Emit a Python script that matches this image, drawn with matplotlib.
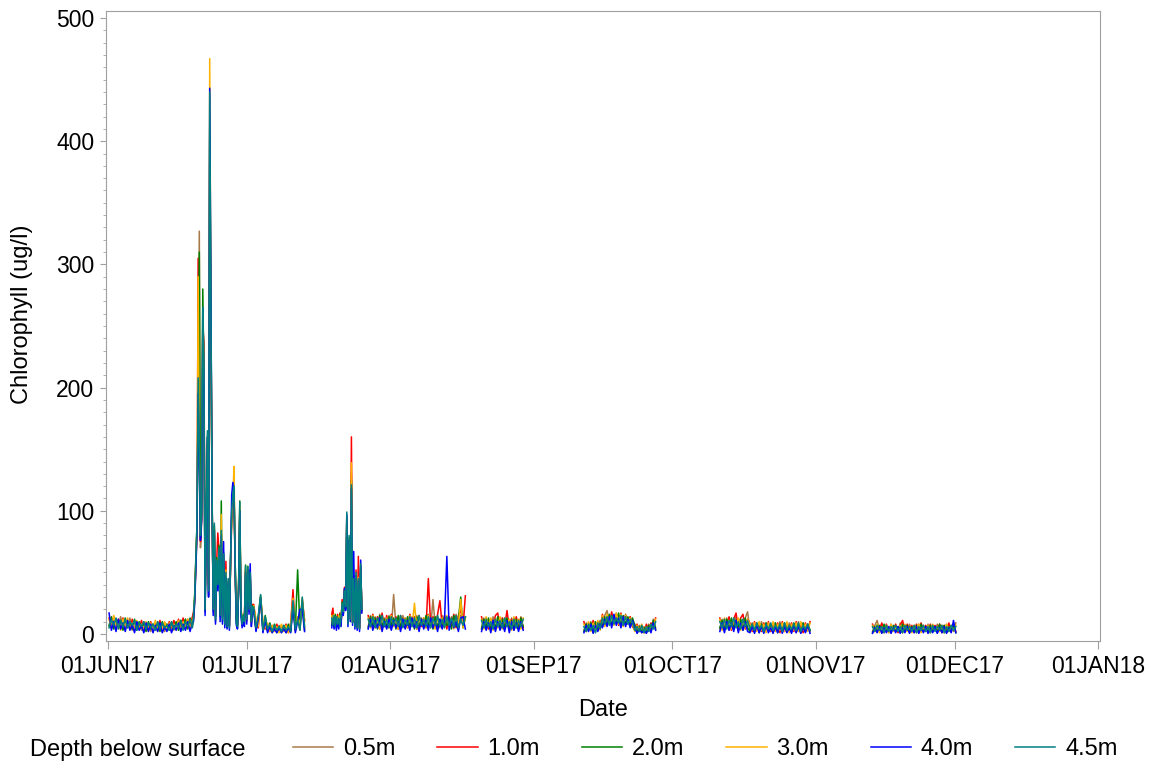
import numpy as np
import pandas as pd
import matplotlib
matplotlib.use("Agg")
import matplotlib.pyplot as plt
import matplotlib.dates as mdates
from matplotlib.ticker import MultipleLocator, FuncFormatter

plt.rcParams["font.family"] = ["Liberation Sans", "DejaVu Sans"]

# logger deployments: start time and sampling step (hours) of each block
SEG_START = ["2017-06-01 06:00", "2017-06-19 12:00", "2017-07-02 12:00",
             "2017-07-19 09:00", "2017-07-27 06:00", "2017-08-20 18:00",
             "2017-09-11 21:00", "2017-10-11 06:00", "2017-11-13 06:00"]
SEG_STEP_H = [12, 6, 12, 6, 12, 12, 12, 12, 12]

DEPTHS = ["0.5m", "1.0m", "2.0m", "3.0m", "4.0m", "4.5m"]
COLORS = ["#A87A48", "#FF0000", "#008000", "#FFB300", "#0000FF", "#008080"]

# chlorophyll (ug/l) per depth, one list per block
chl_05 = [
    [6, 13, 5, 12, 7, 14, 4, 11, 6, 13, 3, 10, 5, 9, 3, 10, 4, 9, 2, 8, 4, 10, 3, 9, 2, 8, 4, 10, 3, 9, 5, 11, 4, 12, 5, 11, 6],
    [12, 25, 55, 80, 190, 327, 70, 90, 240, 200, 25, 85, 150, 30, 380, 240, 110, 25, 80, 15, 55, 45, 65, 18, 75, 15,
     60, 10, 45, 8, 40, 6, 55, 90, 105, 115, 50, 12, 8, 35, 95, 18, 10, 12, 8, 50, 10, 48, 18, 45, 8, 20],
    [20, 4, 13, 28, 3, 12, 2, 7, 1, 6, 2, 7, 1, 6, 2, 7, 3, 25, 4, 14, 3, 26, 5],
    [8, 16, 6, 14, 7, 15, 5, 14, 8, 22, 16, 30, 20, 85, 9, 70, 13, 130, 10, 40, 7, 45, 6, 40, 5, 50, 18],
    [6, 15, 5, 14, 7, 16, 5, 13, 6, 15, 4, 32, 6, 14, 5, 15, 7, 13, 4, 14, 6, 15, 5, 13, 7, 14, 16, 5, 28, 6,
     14, 5, 15, 7, 13, 5, 14, 6, 16, 4, 15, 6, 13],
    [5, 13, 4, 12, 6, 14, 3, 12, 5, 13, 4, 11, 6, 13, 3, 12, 5, 14, 4],
    [3, 9, 4, 10, 2, 8, 5, 11, 8, 15, 19, 9, 16, 8, 17, 9, 15, 7, 16, 8, 14, 7, 8, 2, 7, 1, 6, 2, 8, 3, 12, 5],
    [4, 12, 5, 13, 3, 11, 6, 14, 4, 12, 5, 13, 18, 3, 9, 2, 8, 3, 10, 2, 9, 3, 8, 1, 9, 2, 10, 3, 8, 2, 9, 3, 8, 1,
     10, 2, 9, 3, 8, 2],
    [2, 7, 11, 3, 8, 2, 7, 1, 8, 3, 7, 2, 9, 1, 7, 3, 8, 2, 7, 1, 8, 3, 7, 2, 8, 1, 7, 3, 8, 2, 7, 1, 8, 3, 7, 2, 9],
]
chl_10 = [
    [13, 5, 14, 6, 12, 4, 13, 5, 11, 4, 12, 3, 9, 4, 11, 2, 9, 3, 10, 4, 8, 3, 11, 2, 9, 4, 10, 3, 11, 4, 12, 5, 13, 4, 12, 6, 14],
    [18, 28, 58, 85, 305, 160, 75, 95, 250, 237, 22, 90, 155, 40, 400, 255, 115, 22, 85, 14, 58, 82, 68, 16, 80, 14,
     62, 10, 59, 8, 42, 7, 58, 95, 108, 112, 55, 12, 7, 38, 100, 22, 9, 14, 12, 52, 11, 50, 19, 48, 9, 24],
    [24, 10, 5, 30, 9, 4, 8, 2, 7, 3, 8, 2, 7, 3, 8, 1, 9, 36, 3, 13, 8, 28, 11],
    [16, 21, 8, 15, 6, 16, 8, 17, 7, 28, 20, 38, 25, 90, 10, 75, 14, 160, 11, 48, 8, 52, 6, 63, 5, 55, 22],
    [15, 6, 16, 5, 14, 4, 17, 6, 15, 5, 16, 7, 14, 4, 15, 6, 13, 5, 16, 7, 14, 4, 15, 6, 13, 5, 45, 7, 14, 5,
     16, 27, 6, 15, 4, 14, 7, 16, 5, 15, 20, 6, 31],
    [14, 5, 13, 4, 12, 6, 15, 17, 4, 13, 6, 19, 5, 12, 4, 14, 6, 13, 5],
    [10, 2, 9, 3, 11, 4, 10, 5, 16, 7, 15, 8, 18, 9, 16, 7, 17, 8, 15, 9, 14, 6, 3, 8, 2, 7, 1, 8, 3, 9, 6, 13],
    [13, 4, 12, 6, 14, 3, 12, 17, 5, 13, 16, 4, 12, 9, 2, 10, 3, 8, 2, 9, 3, 10, 2, 8, 3, 9, 1, 10, 2, 8, 3, 9, 2, 10,
     3, 8, 1, 9, 3, 10],
    [8, 2, 7, 3, 9, 1, 8, 2, 7, 3, 8, 1, 7, 11, 2, 8, 3, 7, 1, 8, 2, 9, 3, 7, 1, 8, 2, 7, 3, 8, 1, 7, 2, 9, 3, 7, 2],
]
chl_20 = [
    [7, 14, 4, 12, 6, 11, 3, 13, 5, 10, 4, 12, 3, 10, 5, 9, 2, 10, 4, 8, 3, 9, 2, 10, 4, 8, 3, 9, 5, 10, 3, 11, 6, 12, 4, 13, 7],
    [14, 32, 62, 88, 200, 310, 78, 98, 280, 210, 18, 92, 160, 32, 410, 262, 118, 18, 88, 10, 62, 38, 72, 14, 108, 10,
     66, 7, 48, 5, 44, 6, 62, 98, 110, 118, 58, 9, 5, 42, 108, 19, 7, 16, 9, 56, 13, 55, 21, 52, 11, 23],
    [21, 3, 14, 31, 2, 15, 3, 9, 2, 8, 1, 6, 2, 7, 1, 8, 2, 26, 3, 52, 4, 27, 3],
    [7, 15, 9, 16, 5, 14, 6, 16, 9, 26, 17, 36, 21, 95, 8, 78, 12, 125, 9, 44, 6, 48, 5, 44, 4, 55, 19],
    [5, 14, 7, 13, 4, 15, 6, 12, 5, 14, 7, 13, 4, 15, 6, 12, 5, 14, 7, 13, 4, 14, 6, 12, 5, 15, 7, 13, 4, 14,
     6, 12, 5, 14, 7, 13, 4, 15, 6, 12, 30, 5, 14],
    [4, 12, 6, 13, 3, 11, 5, 14, 4, 12, 6, 13, 3, 11, 5, 12, 4, 13, 6],
    [2, 8, 3, 9, 1, 10, 3, 9, 6, 14, 8, 16, 7, 15, 9, 17, 6, 15, 8, 14, 7, 13, 7, 1, 6, 2, 5, 1, 7, 2, 11, 4],
    [5, 11, 3, 12, 5, 13, 4, 11, 6, 12, 3, 13, 5, 2, 8, 3, 9, 1, 8, 2, 9, 3, 7, 2, 9, 1, 8, 3, 9, 2, 7, 3, 9, 2,
     8, 1, 9, 2, 8, 3],
    [1, 6, 2, 7, 1, 8, 2, 6, 1, 7, 2, 6, 1, 8, 2, 7, 1, 6, 2, 7, 1, 8, 2, 6, 1, 7, 2, 6, 1, 8, 2, 7, 1, 6, 2, 7, 1],
]
chl_30 = [
    [12, 4, 15, 6, 10, 3, 12, 5, 13, 4, 9, 3, 11, 4, 8, 3, 10, 2, 9, 4, 11, 2, 8, 3, 10, 4, 9, 2, 8, 4, 11, 3, 10, 5, 12, 4, 11],
    [13, 29, 57, 86, 290, 145, 82, 96, 255, 205, 24, 88, 158, 38, 467, 265, 112, 24, 86, 16, 57, 42, 66, 20, 97, 16,
     63, 11, 52, 9, 43, 8, 57, 96, 111, 136, 57, 13, 9, 39, 104, 21, 11, 13, 11, 53, 14, 52, 18, 49, 12, 21],
    [23, 12, 6, 30, 10, 5, 9, 2, 7, 2, 6, 1, 8, 2, 7, 1, 8, 29, 2, 14, 7, 29, 10],
    [15, 7, 16, 8, 14, 6, 15, 8, 13, 24, 19, 33, 23, 92, 9, 77, 13, 139, 10, 46, 7, 49, 6, 46, 5, 54, 21],
    [13, 5, 15, 6, 12, 4, 14, 7, 13, 5, 15, 6, 12, 4, 14, 7, 13, 5, 15, 6, 25, 4, 14, 7, 13, 5, 15, 6, 12, 4,
     14, 7, 13, 5, 15, 6, 12, 4, 14, 7, 28, 5, 13],
    [12, 4, 14, 6, 13, 3, 12, 5, 14, 4, 13, 6, 12, 3, 14, 5, 12, 4, 13],
    [8, 3, 10, 2, 9, 4, 11, 3, 15, 6, 16, 9, 14, 7, 17, 8, 16, 6, 15, 9, 13, 8, 2, 7, 3, 8, 1, 6, 3, 7, 5, 12],
    [12, 3, 13, 5, 11, 4, 12, 6, 13, 3, 11, 5, 12, 8, 3, 9, 2, 10, 3, 8, 1, 9, 3, 10, 2, 8, 3, 9, 2, 10, 1, 8, 3, 9,
     2, 10, 3, 8, 2, 9],
    [7, 2, 8, 1, 6, 3, 7, 1, 8, 2, 6, 3, 7, 1, 8, 2, 6, 1, 7, 3, 8, 1, 6, 2, 7, 1, 8, 3, 6, 2, 7, 1, 8, 2, 6, 3, 7],
]
chl_40 = [
    [17, 3, 10, 2, 12, 4, 9, 2, 11, 3, 8, 1, 10, 3, 7, 1, 9, 2, 8, 1, 7, 2, 9, 1, 6, 2, 8, 1, 7, 3, 9, 2, 8, 3, 10, 2, 9],
    [10, 26, 52, 84, 195, 140, 76, 92, 250, 205, 15, 90, 160, 30, 443, 272, 115, 15, 84, 8, 56, 35, 66, 10, 80, 8,
     75, 5, 46, 4, 42, 3, 56, 113, 123, 118, 52, 7, 4, 36, 100, 15, 5, 12, 6, 50, 8, 52, 16, 57, 6, 18],
    [20, 2, 12, 29, 1, 11, 1, 6, 1, 4, 1, 5, 1, 4, 1, 5, 1, 22, 1, 10, 20, 20, 2],
    [5, 12, 4, 13, 3, 11, 4, 12, 6, 23, 15, 37, 19, 97, 6, 76, 10, 118, 7, 67, 4, 47, 3, 43, 2, 60, 17],
    [4, 12, 3, 11, 5, 13, 2, 10, 4, 12, 3, 11, 5, 10, 2, 12, 4, 11, 3, 13, 5, 10, 2, 12, 4, 11, 3, 13, 5, 10,
     2, 12, 4, 11, 63, 3, 12, 5, 10, 2, 13, 14, 4],
    [2, 10, 3, 9, 1, 11, 2, 10, 3, 9, 2, 11, 1, 10, 3, 9, 2, 10, 3],
    [1, 7, 2, 8, 0.5, 7, 2, 8, 5, 12, 6, 14, 5, 16, 7, 13, 5, 14, 6, 12, 5, 11, 5, 0.5, 4, 1, 3, 0.5, 5, 1, 9, 3],
    [2, 9, 1, 10, 3, 9, 2, 11, 1, 9, 3, 10, 2, 1, 6, 0.5, 7, 1, 6, 0.5, 7, 1, 5, 0.5, 6, 1, 7, 0.5, 6, 1, 5, 0.5, 7, 1,
     6, 0.5, 5, 1, 7, 0.5],
    [0.5, 5, 1, 6, 0.5, 5, 1, 6, 0.5, 5, 1, 6, 0.5, 5, 1, 6, 0.5, 5, 1, 6, 0.5, 5, 1, 6, 0.5, 5, 1, 6, 0.5, 5, 1, 6,
     0.5, 5, 1, 11, 1],
]
chl_45 = [
    [5, 12, 7, 13, 4, 11, 6, 12, 5, 10, 7, 11, 3, 9, 6, 10, 4, 9, 5, 8, 3, 10, 4, 9, 5, 7, 3, 10, 4, 8, 5, 11, 3, 10, 6, 12, 5],
    [15, 30, 60, 90, 208, 150, 80, 100, 265, 216, 20, 95, 165, 35, 440, 270, 120, 20, 90, 12, 60, 40, 70, 15, 84, 12,
     65, 8, 50, 6, 45, 5, 60, 100, 113, 120, 60, 10, 6, 40, 107, 20, 8, 15, 10, 55, 12, 54, 20, 50, 10, 22],
    [22, 5, 15, 32, 3, 14, 4, 8, 2, 7, 3, 6, 2, 7, 3, 6, 2, 27, 4, 12, 3, 30, 6],
    [13, 7, 15, 6, 14, 8, 13, 6, 12, 25, 18, 35, 22, 99, 8, 80, 12, 121, 9, 45, 6, 50, 5, 45, 4, 57, 20],
    [12, 6, 14, 5, 13, 7, 15, 6, 12, 5, 14, 7, 13, 6, 15, 5, 12, 7, 14, 6, 13, 5, 15, 7, 12, 6, 14, 5, 13, 7,
     15, 6, 12, 5, 14, 7, 13, 6, 15, 5, 12, 7, 14],
    [11, 5, 12, 6, 10, 4, 12, 6, 11, 5, 13, 6, 10, 4, 12, 5, 11, 6, 12],
    [6, 2, 8, 3, 7, 1, 9, 4, 13, 8, 14, 7, 15, 8, 13, 9, 15, 7, 14, 8, 12, 9, 3, 6, 2, 7, 1, 6, 2, 8, 4, 10],
    [10, 5, 12, 4, 11, 6, 13, 5, 10, 4, 12, 6, 11, 4, 8, 3, 9, 4, 7, 2, 8, 4, 9, 3, 7, 4, 8, 2, 9, 3, 7, 4, 8, 3,
     9, 2, 7, 4, 8, 3],
    [6, 2, 7, 3, 6, 1, 7, 2, 6, 3, 7, 2, 6, 1, 7, 3, 6, 2, 7, 1, 6, 3, 7, 2, 6, 1, 7, 2, 6, 3, 7, 1, 6, 2, 7, 3, 6],
]


def to_series(blocks):
    # join the blocks into one series, NaN where the logger was out of the water
    times, vals = [], []
    last = None
    for start, step, v in zip(SEG_START, SEG_STEP_H, blocks):
        t = pd.date_range(start, periods=len(v), freq=f"{step}h")
        if last is not None and t[0] - last > pd.Timedelta(days=1):
            times.append(last + pd.Timedelta(hours=1))
            vals.append(np.nan)
        times.extend(t)
        vals.extend(v)
        last = t[-1]
    return pd.Series(vals, index=pd.DatetimeIndex(times))


fig = plt.figure(figsize=(11.51, 7.70), dpi=100)
ax = fig.add_axes([106 / 1151, 129 / 770, 994 / 1151, 630 / 770])

lines = []
for name, blocks, col in zip(DEPTHS, [chl_05, chl_10, chl_20, chl_30, chl_40, chl_45], COLORS):
    s = to_series(blocks)
    ln, = ax.plot(s.index, s.values, color=col, lw=1.1, label=name)
    lines.append(ln)

x0 = pd.Timestamp("2017-06-01") - pd.Timedelta(hours=10)
x1 = pd.Timestamp("2018-01-01") + pd.Timedelta(hours=10)
ax.set_xlim(x0, x1)
ax.set_ylim(-5.7, 505.7)

ax.xaxis.set_major_locator(mdates.MonthLocator())
ax.xaxis.set_major_formatter(FuncFormatter(lambda v, p: mdates.num2date(v).strftime("%d%b%y").upper()))
ax.yaxis.set_major_locator(MultipleLocator(100))
ax.yaxis.set_minor_locator(MultipleLocator(10))

grey = "#A0A0A0"
for sp in ax.spines.values():
    sp.set_color(grey)
ax.tick_params(axis="x", colors=grey, labelcolor="black", labelsize=16.5, length=6, pad=4)
ax.tick_params(axis="y", which="major", colors=grey, labelcolor="black", labelsize=16.5, length=4.5, pad=4)
ax.tick_params(axis="y", which="minor", colors=grey, length=2.5)

fig.text(22 / 1151, 1 - 314 / 770, "Chlorophyll (ug/l)", rotation=90, ha="center", va="center", fontsize=17)
fig.text(603 / 1151, 1 - 710 / 770, "Date", ha="center", va="center", fontsize=17)

fig.text(30 / 1151, 1 - 750 / 770, "Depth below surface", ha="left", va="center", fontsize=17)
fig.legend(handles=lines, loc="center left", bbox_to_anchor=(293 / 1151, 1 - 749 / 770), ncol=6,
           frameon=False, fontsize=17, handlelength=1.7, handletextpad=0.42, columnspacing=1.78,
           borderpad=0, borderaxespad=0)

fig.savefig("out.png", dpi=100)
